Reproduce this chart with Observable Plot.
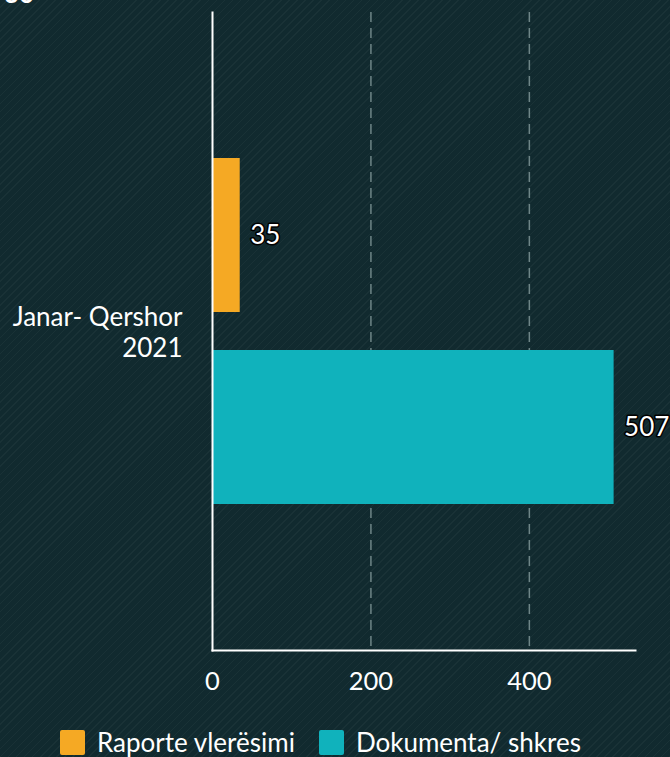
<!DOCTYPE html>
<html>
<head>
<meta charset="utf-8">
<script src="https://cdn.jsdelivr.net/npm/d3@7"></script>
<script src="https://cdn.jsdelivr.net/npm/@observablehq/plot@0.6"></script>
<style>
  html, body { margin: 0; padding: 0; }
  body {
    width: 670px; height: 757px; overflow: hidden; position: relative;
    font-family: Lato, "Open Sans", sans-serif; color: #ffffff;
    background-color: #112a2f;
    background-image: repeating-linear-gradient(135deg, rgba(255,255,255,0) 0px, rgba(255,255,255,0) 4.6px, rgba(255,255,255,0.035) 4.6px, rgba(255,255,255,0.035) 5.7px);
  }
  #cut { position: absolute; left: 4px; top: -22px; font-size: 26px; font-weight: bold; color: #fff; line-height: 30px; }
  #chart svg { display: block; background: transparent; }
  #legend { position: absolute; top: 727px; left: 60px; display: flex; gap: 24px; font-size: 26px; line-height: 30px; }
  .item { display: flex; align-items: center; gap: 12px; }
  .sw { width: 25px; height: 25px; border-radius: 2px; }
</style>
</head>
<body>
<div id="cut">30</div>
<div id="chart"></div>
<div id="legend"></div>
<script>
const category = "Janar- Qershor\n2021";
const series = ["Raporte vlerësimi", "Dokumenta/ shkres"];
const values = [35, 507];
const colors = ["#f5a924", "#10b2bc"];
const xTicks = [0, 200, 400];

const data = series.map((s, i) => ({series: s, value: values[i]}));

const chart = Plot.plot({
  width: 670,
  height: 710,
  marginTop: 12,
  marginBottom: 60,
  marginLeft: 212,
  marginRight: 35,
  style: {fontFamily: "Lato, 'Open Sans', sans-serif", background: "transparent", color: "#fff"},
  x: {domain: [0, 534], label: null},
  y: {domain: series, paddingInner: 0.2, paddingOuter: 0.76, axis: null},
  color: {domain: series, range: colors},
  marks: [
    Plot.gridX(xTicks.filter(d => d > 0), {stroke: "#6e8587", strokeOpacity: 1, strokeWidth: 1.5, strokeDasharray: "10,6"}),
    Plot.barX(data, {x: "value", y: "series", fill: "series"}),
    Plot.frame({anchor: "left", stroke: "#ffffff", strokeWidth: 2}),
    Plot.frame({anchor: "bottom", stroke: "#ffffff", strokeWidth: 2}),
    Plot.axisX({ticks: xTicks, tickSize: 0, tickPadding: 21, fontSize: 25.5, fill: "#fff", label: null, tickFormat: d => String(d)}),
    Plot.text(data, {x: "value", y: "series", text: d => String(d.value), dx: 10, textAnchor: "start", fill: "#fff", stroke: "#000", strokeWidth: 3, paintOrder: "stroke", fontSize: 26}),
    Plot.text([category], {frameAnchor: "left", text: d => d, dx: -30, textAnchor: "end", fill: "#fff", fontSize: 26, lineHeight: 1.2})
  ]
});
document.getElementById("chart").appendChild(chart);

const legend = document.getElementById("legend");
series.forEach((s, i) => {
  const it = document.createElement("div");
  it.className = "item";
  const sw = document.createElement("div");
  sw.className = "sw";
  sw.style.background = colors[i];
  const t = document.createElement("span");
  t.textContent = s;
  it.appendChild(sw); it.appendChild(t);
  legend.appendChild(it);
});
</script>
</body>
</html>
